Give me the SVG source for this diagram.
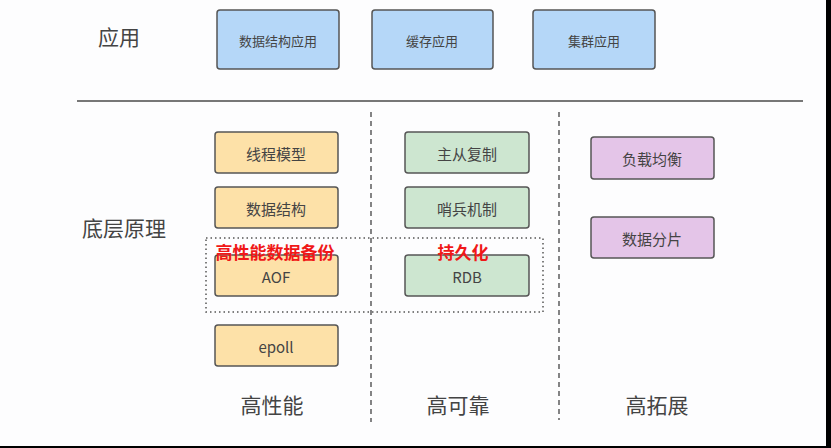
<svg xmlns="http://www.w3.org/2000/svg" width="831" height="448" viewBox="0 0 831 448">
<style>
text{font-family:"Noto Sans CJK SC","Liberation Sans",sans-serif;text-anchor:middle;dominant-baseline:central}
.n{stroke:#555;stroke-width:1.5}
.b{fill:#b5d7f8}
.o{fill:#fde1a8}
.g{fill:#cde6d0}
.p{fill:#e4c5e8}
.t{font-size:15px;fill:#444}
.s{font-size:13px;fill:#444}
.h{font-size:21px;fill:#444}
.r{font-size:17px;font-weight:bold;fill:#f01818}
.dash{stroke:#444;stroke-width:1.3;stroke-dasharray:5,4;fill:none}
.dot{stroke:#555;stroke-width:1.5;stroke-dasharray:1.5,3;fill:none}
</style>
<rect width="831" height="448" fill="#fdfdfe"/>
<rect x="826" y="0" width="5" height="448" fill="#000"/>
<rect x="0" y="446" width="831" height="2" fill="#000"/>
<text class="h" x="119" y="36">应用</text>
<text class="h" x="124" y="227">底层原理</text>
<line x1="77" y1="101" x2="803" y2="101" stroke="#777" stroke-width="2"/>
<g id="connectors">
<line class="dash" x1="371" y1="112" x2="371" y2="422"/>
<line class="dash" x1="559" y1="112" x2="559" y2="420"/>
<rect class="dot" x="206" y="238" width="337" height="74"/>
</g>
<g id="app1"><rect class="n b" x="217" y="10" width="122" height="59" rx="3"/><text class="s" x="278" y="40">数据结构应用</text></g>
<g id="app2"><rect class="n b" x="372" y="10" width="121" height="59" rx="3"/><text class="s" x="432" y="40">缓存应用</text></g>
<g id="app3"><rect class="n b" x="533" y="10" width="122" height="59" rx="3"/><text class="s" x="594" y="40">集群应用</text></g>
<g id="thread"><rect class="n o" x="215" y="132" width="123" height="41" rx="3"/><text class="t" x="276" y="153">线程模型</text></g>
<g id="ds"><rect class="n o" x="215" y="187" width="123" height="41" rx="3"/><text class="t" x="276" y="208">数据结构</text></g>
<g id="aof"><rect class="n o" x="215" y="255" width="123" height="41" rx="3"/><text class="t" x="276" y="276">AOF</text></g>
<g id="epoll"><rect class="n o" x="215" y="325" width="123" height="41" rx="3"/><text class="t" x="276" y="346">epoll</text></g>
<g id="repl"><rect class="n g" x="405" y="132" width="124" height="41" rx="3"/><text class="t" x="467" y="153">主从复制</text></g>
<g id="sentinel"><rect class="n g" x="405" y="187" width="124" height="41" rx="3"/><text class="t" x="467" y="208">哨兵机制</text></g>
<g id="rdb"><rect class="n g" x="405" y="255" width="124" height="41" rx="3"/><text class="t" x="467" y="276">RDB</text></g>
<g id="lb"><rect class="n p" x="591" y="137" width="123" height="42" rx="3"/><text class="t" x="652" y="158">负载均衡</text></g>
<g id="shard"><rect class="n p" x="591" y="217" width="123" height="41" rx="3"/><text class="t" x="652" y="238">数据分片</text></g>
<text class="r" x="275" y="251">高性能数据备份</text>
<text class="r" x="463" y="251">持久化</text>
<text class="h" x="272" y="404">高性能</text>
<text class="h" x="458" y="404">高可靠</text>
<text class="h" x="657" y="404">高拓展</text>
</svg>
